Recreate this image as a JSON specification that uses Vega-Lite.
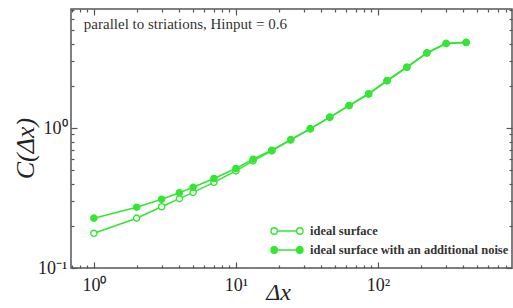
{
  "$schema": "https://vega.github.io/schema/vega-lite/v6.json",
  "width": 441,
  "height": 259,
  "autosize": "none",
  "padding": {"left": 71, "top": 9, "right": 1, "bottom": 40},
  "background": "white",
  "config": {
    "view": {"stroke": "#555555", "strokeWidth": 1.5},
    "font": "Liberation Serif",
    "axis": {"domain": false, "grid": false, "tickColor": "#555555", "tickWidth": 1.2}
  },
  "datasets": {
    "curves": [
      {"dx": 1, "C": 0.177, "series": "ideal surface"},
      {"dx": 2, "C": 0.227, "series": "ideal surface"},
      {"dx": 3, "C": 0.274, "series": "ideal surface"},
      {"dx": 4, "C": 0.313, "series": "ideal surface"},
      {"dx": 5, "C": 0.347, "series": "ideal surface"},
      {"dx": 7, "C": 0.409, "series": "ideal surface"},
      {"dx": 10, "C": 0.494, "series": "ideal surface"},
      {"dx": 13.2, "C": 0.582, "series": "ideal surface"},
      {"dx": 17.9, "C": 0.686, "series": "ideal surface"},
      {"dx": 24.3, "C": 0.82, "series": "ideal surface"},
      {"dx": 33.4, "C": 0.985, "series": "ideal surface"},
      {"dx": 45.8, "C": 1.19, "series": "ideal surface"},
      {"dx": 62.7, "C": 1.445, "series": "ideal surface"},
      {"dx": 86, "C": 1.75, "series": "ideal surface"},
      {"dx": 116, "C": 2.175, "series": "ideal surface"},
      {"dx": 160, "C": 2.715, "series": "ideal surface"},
      {"dx": 221, "C": 3.43, "series": "ideal surface"},
      {"dx": 302, "C": 4.01, "series": "ideal surface"},
      {"dx": 418, "C": 4.08, "series": "ideal surface"},
      {"dx": 1, "C": 0.227, "series": "ideal surface with an additional noise"},
      {"dx": 2, "C": 0.272, "series": "ideal surface with an additional noise"},
      {"dx": 3, "C": 0.310, "series": "ideal surface with an additional noise"},
      {"dx": 4, "C": 0.345, "series": "ideal surface with an additional noise"},
      {"dx": 5, "C": 0.377, "series": "ideal surface with an additional noise"},
      {"dx": 7, "C": 0.436, "series": "ideal surface with an additional noise"},
      {"dx": 10, "C": 0.514, "series": "ideal surface with an additional noise"},
      {"dx": 13.2, "C": 0.599, "series": "ideal surface with an additional noise"},
      {"dx": 17.9, "C": 0.694, "series": "ideal surface with an additional noise"},
      {"dx": 24.3, "C": 0.826, "series": "ideal surface with an additional noise"},
      {"dx": 33.4, "C": 0.99, "series": "ideal surface with an additional noise"},
      {"dx": 45.8, "C": 1.197, "series": "ideal surface with an additional noise"},
      {"dx": 62.7, "C": 1.45, "series": "ideal surface with an additional noise"},
      {"dx": 86, "C": 1.757, "series": "ideal surface with an additional noise"},
      {"dx": 116, "C": 2.18, "series": "ideal surface with an additional noise"},
      {"dx": 160, "C": 2.72, "series": "ideal surface with an additional noise"},
      {"dx": 221, "C": 3.44, "series": "ideal surface with an additional noise"},
      {"dx": 302, "C": 4.02, "series": "ideal surface with an additional noise"},
      {"dx": 418, "C": 4.09, "series": "ideal surface with an additional noise"}
    ],
    "note": [{"label": "parallel to striations, Hinput = 0.6", "dx": 0.85, "C": 5.5}]
  },
  "resolve": {"axis": {"x": "independent", "y": "independent"}},
  "layer": [
    {
      "data": {"name": "curves"},
      "layer": [
        {
          "mark": {"type": "line", "color": "#33e633", "strokeWidth": 1.6},
          "encoding": {
            "x": {"field": "dx", "type": "quantitative"},
            "y": {"field": "C", "type": "quantitative"},
            "detail": {"field": "series"}
          }
        },
        {
          "mark": {"type": "point", "shape": "circle", "filled": true, "stroke": "#33e633", "strokeWidth": 1.4, "size": 38, "opacity": 1},
          "encoding": {
            "x": {
              "field": "dx", "type": "quantitative",
              "scale": {"type": "log", "domain": [0.69, 879], "nice": false},
              "axis": {
                "orient": "bottom",
                "values": [0.7,0.8,0.9,1,2,3,4,5,6,7,8,9,10,20,30,40,50,60,70,80,90,100,200,300,400,500,600,700,800],
                "tickSize": {"condition": {"test": "abs(log(datum.value)/LN10 - round(log(datum.value)/LN10)) < 1e-6", "value": -6}, "value": -3},
                "labelExpr": "datum.value == 1 ? '10⁰' : datum.value == 10 ? '10¹' : datum.value == 100 ? '10²' : ''",
                "labelFont": "Liberation Serif", "labelFontSize": 18, "labelColor": "#222222",
                "labelPadding": 14, "labelFlush": false, "labelOverlap": false,
                "title": "Δx", "titleFont": "Liberation Serif", "titleFontSize": 24, "titleFontWeight": "normal", "titleFontStyle": "italic",
                "titleColor": "#222222", "titleX": 207, "titleY": 31, "titleBaseline": "alphabetic"
              }
            },
            "y": {
              "field": "C", "type": "quantitative",
              "scale": {"type": "log", "domain": [0.1, 7.08], "nice": false},
              "axis": {
                "orient": "left",
                "values": [0.1,0.2,0.3,0.4,0.5,0.6,0.7,0.8,0.9,1,2,3,4,5,6,7],
                "tickSize": {"condition": {"test": "abs(log(datum.value)/LN10 - round(log(datum.value)/LN10)) < 1e-6", "value": -6}, "value": -3},
                "labelExpr": "datum.value == 1 ? '10⁰' : datum.value == 0.1 ? '10⁻¹' : ''",
                "labelFont": "Liberation Serif", "labelFontSize": 18, "labelColor": "#222222",
                "labelPadding": 10, "labelFlush": false, "labelOverlap": false,
                "title": "C(Δx)", "titleFont": "Liberation Serif", "titleFontSize": 26, "titleFontWeight": "normal", "titleFontStyle": "italic",
                "titleColor": "#222222", "titleX": -33, "titleY": 139, "titleBaseline": "bottom"
              }
            },
            "fill": {
              "field": "series", "type": "nominal",
              "scale": {"domain": ["ideal surface", "ideal surface with an additional noise"], "range": ["white", "#33e633"]},
              "legend": {
                "orient": "none", "legendX": 207, "legendY": 213, "title": null, "padding": 0,
                "symbolType": "M-2,0 a0.4,0.4 0 1,0 0.8,0 a0.4,0.4 0 1,0 -0.8,0 M-1.2,0 L1.2,0 M1.2,0 a0.4,0.4 0 1,0 0.8,0 a0.4,0.4 0 1,0 -0.8,0",
                "symbolSize": 256, "symbolStrokeColor": "#33e633", "symbolStrokeWidth": 1.4, "symbolOpacity": 1,
                "labelFont": "Liberation Serif", "labelFontSize": 12.5, "labelFontWeight": "bold", "labelColor": "#333333",
                "labelLimit": 300, "rowPadding": 3, "labelOffset": 14
              }
            }
          }
        }
      ]
    },
    {
      "data": {"name": "note"},
      "mark": {"type": "text", "align": "left", "baseline": "middle", "font": "Liberation Serif", "fontSize": 15, "color": "#333333"},
      "encoding": {
        "x": {"field": "dx", "type": "quantitative",
          "axis": {"orient": "top", "labels": false, "title": null,
            "values": [0.7,0.8,0.9,1,2,3,4,5,6,7,8,9,10,20,30,40,50,60,70,80,90,100,200,300,400,500,600,700,800],
            "tickSize": {"condition": {"test": "abs(log(datum.value)/LN10 - round(log(datum.value)/LN10)) < 1e-6", "value": -6}, "value": -3}}},
        "y": {"field": "C", "type": "quantitative",
          "axis": {"orient": "right", "labels": false, "title": null,
            "values": [0.1,0.2,0.3,0.4,0.5,0.6,0.7,0.8,0.9,1,2,3,4,5,6,7],
            "tickSize": {"condition": {"test": "abs(log(datum.value)/LN10 - round(log(datum.value)/LN10)) < 1e-6", "value": -6}, "value": -3}}},
        "text": {"field": "label"}
      }
    }
  ]
}
